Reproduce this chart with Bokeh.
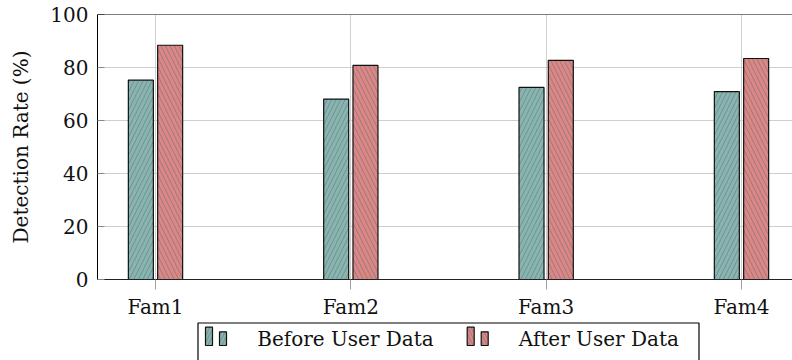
import numpy as np
from bokeh.plotting import figure
from bokeh.layouts import column
from bokeh.models import Range1d, FixedTicker, Span, ColumnDataSource
from bokeh.core.properties import value
from bokeh.embed import file_html
from bokeh.resources import INLINE

# ---- data -------------------------------------------------------------
families = ["Fam1", "Fam2", "Fam3", "Fam4"]
series_names = ["Before User Data", "After User Data"]
before_user = [75.2, 68.1, 72.5, 70.9]
after_user = [88.4, 80.8, 82.7, 83.4]
y_ticks = [0, 20, 40, 60, 80, 100]

# ---- styling ----------------------------------------------------------
FONT = "DejaVu Serif"
fills = ["#86b6b2", "#dc8686"]
hatches = ["right_diagonal_line", "left_diagonal_line"]
HATCH_COLOR = "#707070"
offsets = [-0.075, 0.075]
bar_w = 0.128

pos = np.arange(1, len(families) + 1)

FRAME_L, FRAME_R = 97, 792
MAIN_H = 321

p = figure(width=792, height=MAIN_H, output_backend="svg", toolbar_location=None,
           x_range=Range1d(0.7031, 4.2611), y_range=Range1d(0, 100),
           min_border_left=FRAME_L, min_border_right=0, min_border_top=14,
           min_border_bottom=40)
p.outline_line_color = None
p.background_fill_color = "white"
p.border_fill_color = "white"

for vals, off, col, hat in zip([before_user, after_user], offsets, fills, hatches):
    src = ColumnDataSource(dict(x=pos + off, top=vals))
    p.vbar(x="x", top="top", width=bar_w, bottom=0, source=src,
           fill_color=col, line_color="#111111", line_width=1.2,
           hatch_pattern=hat, hatch_color=HATCH_COLOR, hatch_alpha=0.6,
           hatch_weight=1, hatch_scale=9)

# axes
p.xaxis.ticker = FixedTicker(ticks=list(pos))
p.xaxis.major_label_overrides = {int(i): f for i, f in zip(pos, families)}
p.xaxis.major_tick_in = 0
p.xaxis.major_tick_out = 10
p.xaxis.major_tick_line_color = "#a0a0a0"
p.xaxis.minor_tick_line_color = None
p.xaxis.axis_line_color = "#222222"
p.xaxis.major_label_standoff = 5

p.yaxis.ticker = FixedTicker(ticks=y_ticks)
p.yaxis.major_tick_in = 7
p.yaxis.major_tick_out = 0
p.yaxis.major_tick_line_color = "#888888"
p.yaxis.minor_tick_line_color = None
p.yaxis.axis_line_color = "black"
p.yaxis.major_label_standoff = 9
p.yaxis.axis_label = "Detection Rate (%)"
p.yaxis.axis_label_standoff = 14

for ax in (p.xaxis, p.yaxis):
    ax.major_label_text_font = FONT
    ax.major_label_text_font_size = "20px"
    ax.major_label_text_color = "#111111"
    ax.axis_label_text_font = FONT
    ax.axis_label_text_font_size = "20px"
    ax.axis_label_text_font_style = "normal"
    ax.axis_label_text_color = "#111111"

p.xgrid.ticker = FixedTicker(ticks=list(pos))
p.xgrid.grid_line_color = "#cfcfcf"
p.ygrid.ticker = FixedTicker(ticks=y_ticks)
p.ygrid.grid_line_color = "#cfcfcf"

# top edge of the axis box
p.add_layout(Span(location=100, dimension="width", line_color="black",
                  line_width=1.2))

# ---- legend strip below (ranges in page pixels) -------------------------
leg = figure(width=792, height=360 - MAIN_H, output_backend="svg",
             toolbar_location=None,
             x_range=Range1d(FRAME_L, FRAME_R), y_range=Range1d(360, MAIN_H),
             min_border_left=FRAME_L, min_border_right=0,
             min_border_top=0, min_border_bottom=0)
leg.axis.visible = False
leg.grid.visible = False
leg.outline_line_color = None

leg.quad(left=[197.5], right=[698.5], top=[322.5], bottom=[370],
         fill_color=None, line_color="black", line_width=1.2)

entry_x = [205, 466.7]
text_x = [256.7, 518.3]
for ex, tx, col, hat, name in zip(entry_x, text_x, fills, hatches, series_names):
    leg.quad(left=[ex, ex + 14], right=[ex + 7, ex + 21], top=[326.7, 331.3],
             bottom=[345, 345], fill_color=col, line_color="#111111",
             line_width=1.2, hatch_pattern=hat, hatch_color=HATCH_COLOR,
             hatch_alpha=0.6, hatch_weight=1, hatch_scale=7)
    leg.text(x=[tx], y=[338.8], text=[name], text_font=value(FONT),
             text_font_size=value("20px"), text_baseline="alphabetic",
             text_align="left", text_color="#111111")

layout = column(p, leg, spacing=0)
open("out.html", "w").write(file_html(layout, INLINE))
